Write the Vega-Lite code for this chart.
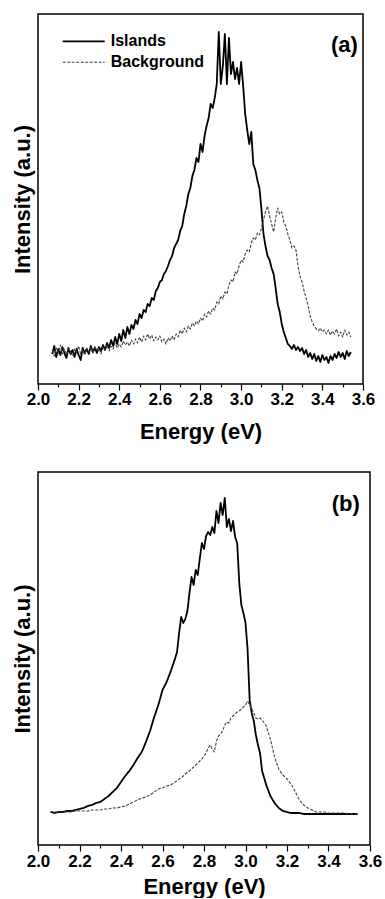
{
  "$schema": "https://vega.github.io/schema/vega-lite/v6.json",
  "padding": {"left": 10, "top": 13, "right": 0, "bottom": 0},
  "spacing": 28,
  "config": {
    "font": "Liberation Sans",
    "view": {"stroke": "#000", "strokeWidth": 1.5},
    "axis": {"labelFontSize": 17, "labelFontWeight": "bold", "labelColor": "#000", "titleFontSize": 22, "titleFontWeight": "bold", "titleColor": "#000", "tickColor": "#000", "tickWidth": 1.2, "grid": false, "domain": false},
    "legend": {"labelFontSize": 16, "labelFontWeight": "bold", "labelColor": "#000"}
  },
  "vconcat": [
    {
      "width": 325,
      "height": 370,
      "title": {"text": "(a)", "anchor": "end", "orient": "top", "offset": 0, "baseline": "middle", "dy": 53, "dx": -17, "fontSize": 22, "fontWeight": "bold", "font": "Liberation Sans", "color": "#000"},
      "data": {"values": [
        {"e":2.07,"Islands":30,"Background":34},{"e":2.08,"Islands":38,"Background":28},{"e":2.09,"Islands":27,"Background":36},{"e":2.10,"Islands":35,"Background":31},
        {"e":2.11,"Islands":29,"Background":39},{"e":2.12,"Islands":37,"Background":30},{"e":2.13,"Islands":31,"Background":35},{"e":2.14,"Islands":26,"Background":29},
        {"e":2.15,"Islands":36,"Background":37},{"e":2.16,"Islands":30,"Background":31},{"e":2.17,"Islands":34,"Background":28},{"e":2.18,"Islands":27,"Background":35},
        {"e":2.19,"Islands":35,"Background":32},{"e":2.20,"Islands":29,"Background":38},{"e":2.21,"Islands":24,"Background":30},{"e":2.22,"Islands":36,"Background":34},
        {"e":2.23,"Islands":31,"Background":29},{"e":2.24,"Islands":35,"Background":36},{"e":2.25,"Islands":30,"Background":32},{"e":2.26,"Islands":38,"Background":37},
        {"e":2.27,"Islands":32,"Background":31},{"e":2.28,"Islands":36,"Background":38},{"e":2.29,"Islands":31,"Background":33},{"e":2.30,"Islands":37,"Background":36},
        {"e":2.31,"Islands":33,"Background":30},{"e":2.32,"Islands":39,"Background":37},{"e":2.33,"Islands":34,"Background":34},{"e":2.34,"Islands":41,"Background":39},
        {"e":2.35,"Islands":36,"Background":33},{"e":2.36,"Islands":44,"Background":38},{"e":2.37,"Islands":38,"Background":35},{"e":2.38,"Islands":47,"Background":41},
        {"e":2.39,"Islands":40,"Background":36},{"e":2.40,"Islands":50,"Background":40},{"e":2.41,"Islands":43,"Background":37},{"e":2.42,"Islands":54,"Background":43},
        {"e":2.43,"Islands":46,"Background":39},{"e":2.44,"Islands":57,"Background":42},{"e":2.45,"Islands":50,"Background":38},{"e":2.46,"Islands":59,"Background":44},
        {"e":2.47,"Islands":55,"Background":40},{"e":2.48,"Islands":64,"Background":45},{"e":2.49,"Islands":60,"Background":41},{"e":2.50,"Islands":70,"Background":47},
        {"e":2.51,"Islands":66,"Background":42},{"e":2.52,"Islands":74,"Background":48},{"e":2.53,"Islands":72,"Background":44},{"e":2.54,"Islands":80,"Background":50},
        {"e":2.55,"Islands":78,"Background":45},{"e":2.56,"Islands":86,"Background":49},{"e":2.57,"Islands":84,"Background":43},{"e":2.58,"Islands":93,"Background":47},
        {"e":2.59,"Islands":96,"Background":44},{"e":2.60,"Islands":102,"Background":48},{"e":2.61,"Islands":104,"Background":42},{"e":2.62,"Islands":110,"Background":45},
        {"e":2.63,"Islands":113,"Background":40},{"e":2.64,"Islands":118,"Background":46},{"e":2.65,"Islands":124,"Background":43},{"e":2.66,"Islands":128,"Background":48},
        {"e":2.67,"Islands":136,"Background":44},{"e":2.68,"Islands":140,"Background":50},{"e":2.69,"Islands":144,"Background":47},{"e":2.70,"Islands":153,"Background":54},
        {"e":2.71,"Islands":158,"Background":50},{"e":2.72,"Islands":170,"Background":56},{"e":2.73,"Islands":178,"Background":52},{"e":2.74,"Islands":190,"Background":58},
        {"e":2.75,"Islands":196,"Background":55},{"e":2.76,"Islands":208,"Background":61},{"e":2.77,"Islands":214,"Background":58},{"e":2.78,"Islands":226,"Background":63},
        {"e":2.79,"Islands":222,"Background":60},{"e":2.80,"Islands":240,"Background":66},{"e":2.81,"Islands":232,"Background":63},{"e":2.82,"Islands":248,"Background":70},
        {"e":2.83,"Islands":258,"Background":67},{"e":2.84,"Islands":266,"Background":73},{"e":2.85,"Islands":280,"Background":70},{"e":2.86,"Islands":276,"Background":76},
        {"e":2.87,"Islands":286,"Background":74},{"e":2.88,"Islands":300,"Background":82},{"e":2.89,"Islands":352,"Background":80},{"e":2.90,"Islands":300,"Background":88},
        {"e":2.91,"Islands":318,"Background":85},{"e":2.92,"Islands":350,"Background":92},{"e":2.93,"Islands":300,"Background":90},{"e":2.94,"Islands":346,"Background":99},
        {"e":2.95,"Islands":310,"Background":104},{"e":2.96,"Islands":322,"Background":102},{"e":2.97,"Islands":305,"Background":112},{"e":2.98,"Islands":316,"Background":110},
        {"e":2.99,"Islands":300,"Background":118},{"e":3.00,"Islands":322,"Background":124},{"e":3.01,"Islands":298,"Background":122},{"e":3.02,"Islands":270,"Background":130},
        {"e":3.03,"Islands":254,"Background":134},{"e":3.04,"Islands":240,"Background":132},{"e":3.05,"Islands":252,"Background":141},{"e":3.06,"Islands":220,"Background":146},
        {"e":3.07,"Islands":214,"Background":144},{"e":3.08,"Islands":204,"Background":151},{"e":3.09,"Islands":196,"Background":149},{"e":3.10,"Islands":175,"Background":156},
        {"e":3.11,"Islands":150,"Background":164},{"e":3.12,"Islands":138,"Background":172},{"e":3.13,"Islands":128,"Background":178},{"e":3.14,"Islands":124,"Background":168},
        {"e":3.15,"Islands":116,"Background":160},{"e":3.16,"Islands":110,"Background":152},{"e":3.17,"Islands":96,"Background":166},{"e":3.18,"Islands":80,"Background":176},
        {"e":3.19,"Islands":72,"Background":170},{"e":3.20,"Islands":60,"Background":172},{"e":3.21,"Islands":52,"Background":162},{"e":3.22,"Islands":46,"Background":158},
        {"e":3.23,"Islands":40,"Background":150},{"e":3.24,"Islands":38,"Background":144},{"e":3.25,"Islands":35,"Background":136},{"e":3.26,"Islands":39,"Background":138},
        {"e":3.27,"Islands":34,"Background":134},{"e":3.28,"Islands":37,"Background":118},{"e":3.29,"Islands":33,"Background":108},{"e":3.30,"Islands":36,"Background":102},
        {"e":3.31,"Islands":30,"Background":93},{"e":3.32,"Islands":34,"Background":86},{"e":3.33,"Islands":27,"Background":78},{"e":3.34,"Islands":31,"Background":68},
        {"e":3.35,"Islands":25,"Background":62},{"e":3.36,"Islands":30,"Background":58},{"e":3.37,"Islands":23,"Background":55},{"e":3.38,"Islands":28,"Background":53},
        {"e":3.39,"Islands":22,"Background":56},{"e":3.40,"Islands":29,"Background":52},{"e":3.41,"Islands":24,"Background":54},{"e":3.42,"Islands":27,"Background":50},
        {"e":3.43,"Islands":21,"Background":54},{"e":3.44,"Islands":28,"Background":49},{"e":3.45,"Islands":24,"Background":53},{"e":3.46,"Islands":30,"Background":50},
        {"e":3.47,"Islands":26,"Background":55},{"e":3.48,"Islands":32,"Background":48},{"e":3.49,"Islands":27,"Background":52},{"e":3.50,"Islands":31,"Background":47},
        {"e":3.51,"Islands":25,"Background":54},{"e":3.52,"Islands":33,"Background":49},{"e":3.53,"Islands":28,"Background":52},{"e":3.54,"Islands":32,"Background":47}
      ]},
      "transform": [{"fold": ["Islands", "Background"], "as": ["series", "v"]}],
      "mark": {"type": "line", "strokeJoin": "round"},
      "encoding": {
        "x": {"field": "e", "type": "quantitative", "scale": {"domain": [2.0, 3.6], "nice": false, "zero": false},
          "axis": {"title": "Energy (eV)", "values": [2.0,2.1,2.2,2.3,2.4,2.5,2.6,2.7,2.8,2.9,3.0,3.1,3.2,3.3,3.4,3.5,3.6],
            "labelExpr": "round(datum.value*10) % 2 == 0 ? format(datum.value, '.1f') : ''",
            "tickSize": {"condition": {"test": "round(datum.value*10) % 2 == 0", "value": 6}, "value": 3},
            "labelPadding": 1, "titlePadding": 14, "labelFlush": false, "labelOverlap": false}},
        "y": {"field": "v", "type": "quantitative", "scale": {"domain": [0, 370], "nice": false},
          "axis": {"title": "Intensity (a.u.)", "labels": false, "ticks": false, "titlePadding": 4}},
        "color": {"field": "series", "type": "nominal", "scale": {"domain": ["Islands", "Background"], "range": ["#000000", "#444444"]},
          "legend": {"title": null, "orient": "none", "legendX": 23.7, "legendY": 16.8, "symbolType": "stroke", "symbolSize": 1764, "clipHeight": 21, "rowPadding": 0, "padding": 0, "labelOffset": 5}},
        "strokeDash": {"field": "series", "type": "nominal", "scale": {"domain": ["Islands", "Background"], "range": [[1, 0], [3, 1.5]]},
          "legend": {"title": null, "orient": "none", "legendX": 23.7, "legendY": 16.8, "symbolType": "stroke", "symbolSize": 1764, "clipHeight": 21, "rowPadding": 0, "padding": 0, "labelOffset": 5}},
        "strokeWidth": {"field": "series", "type": "nominal", "scale": {"domain": ["Islands", "Background"], "range": [1.8, 1.1]},
          "legend": {"title": null, "orient": "none", "legendX": 23.7, "legendY": 16.8, "symbolType": "stroke", "symbolSize": 1764, "clipHeight": 21, "rowPadding": 0, "padding": 0, "labelOffset": 5}}
      }
    },
    {
      "width": 332,
      "height": 373,
      "title": {"text": "(b)", "anchor": "end", "orient": "top", "offset": 0, "baseline": "middle", "dy": 54, "dx": -22, "fontSize": 22, "fontWeight": "bold", "font": "Liberation Sans", "color": "#000"},
      "data": {"values": [
        {"e":2.06,"Islands":33,"Background":33},{"e":2.08,"Islands":32,"Background":33},{"e":2.10,"Islands":33,"Background":33},{"e":2.12,"Islands":33,"Background":33},
        {"e":2.14,"Islands":34,"Background":33},{"e":2.16,"Islands":34,"Background":33},{"e":2.18,"Islands":35,"Background":34},{"e":2.20,"Islands":36,"Background":34},
        {"e":2.22,"Islands":37,"Background":34},{"e":2.24,"Islands":39,"Background":34},{"e":2.26,"Islands":40,"Background":35},{"e":2.28,"Islands":42,"Background":35},
        {"e":2.30,"Islands":43,"Background":35},{"e":2.32,"Islands":46,"Background":36},{"e":2.34,"Islands":49,"Background":36},{"e":2.36,"Islands":53,"Background":37},
        {"e":2.38,"Islands":57,"Background":37},{"e":2.40,"Islands":63,"Background":38},{"e":2.42,"Islands":69,"Background":39},{"e":2.44,"Islands":74,"Background":41},
        {"e":2.46,"Islands":80,"Background":43},{"e":2.48,"Islands":87,"Background":45},{"e":2.50,"Islands":93,"Background":47},{"e":2.52,"Islands":103,"Background":48},
        {"e":2.54,"Islands":114,"Background":50},{"e":2.56,"Islands":128,"Background":53},{"e":2.58,"Islands":140,"Background":56},{"e":2.60,"Islands":155,"Background":57},
        {"e":2.62,"Islands":163,"Background":59},{"e":2.64,"Islands":174,"Background":60},{"e":2.66,"Islands":186,"Background":63},{"e":2.67,"Islands":193,"Background":64},
        {"e":2.68,"Islands":212,"Background":66},{"e":2.69,"Islands":228,"Background":67},{"e":2.70,"Islands":222,"Background":69},{"e":2.71,"Islands":226,"Background":71},
        {"e":2.72,"Islands":234,"Background":73},{"e":2.73,"Islands":252,"Background":74},{"e":2.74,"Islands":268,"Background":76},{"e":2.75,"Islands":260,"Background":78},
        {"e":2.76,"Islands":275,"Background":80},{"e":2.77,"Islands":270,"Background":82},{"e":2.78,"Islands":287,"Background":84},{"e":2.79,"Islands":302,"Background":86},
        {"e":2.80,"Islands":296,"Background":89},{"e":2.81,"Islands":309,"Background":92},{"e":2.82,"Islands":313,"Background":97},{"e":2.83,"Islands":310,"Background":100},
        {"e":2.84,"Islands":318,"Background":96},{"e":2.85,"Islands":312,"Background":93},{"e":2.86,"Islands":334,"Background":104},{"e":2.87,"Islands":322,"Background":109},
        {"e":2.88,"Islands":342,"Background":111},{"e":2.89,"Islands":330,"Background":114},{"e":2.90,"Islands":347,"Background":120},{"e":2.91,"Islands":318,"Background":123},
        {"e":2.92,"Islands":326,"Background":122},{"e":2.93,"Islands":314,"Background":127},{"e":2.94,"Islands":324,"Background":129},{"e":2.95,"Islands":308,"Background":131},
        {"e":2.96,"Islands":302,"Background":133},{"e":2.97,"Islands":262,"Background":134},{"e":2.98,"Islands":240,"Background":136},{"e":2.99,"Islands":232,"Background":138},
        {"e":3.00,"Islands":222,"Background":140},{"e":3.01,"Islands":196,"Background":144},{"e":3.02,"Islands":145,"Background":140},{"e":3.03,"Islands":132,"Background":136},
        {"e":3.04,"Islands":124,"Background":132},{"e":3.05,"Islands":110,"Background":127},{"e":3.06,"Islands":100,"Background":126},{"e":3.07,"Islands":92,"Background":127},
        {"e":3.08,"Islands":74,"Background":125},{"e":3.10,"Islands":60,"Background":119},{"e":3.12,"Islands":49,"Background":106},{"e":3.14,"Islands":42,"Background":88},
        {"e":3.16,"Islands":37,"Background":76},{"e":3.18,"Islands":34,"Background":70},{"e":3.20,"Islands":33,"Background":66},{"e":3.22,"Islands":32,"Background":61},
        {"e":3.24,"Islands":32,"Background":53},{"e":3.26,"Islands":32,"Background":45},{"e":3.28,"Islands":31,"Background":40},{"e":3.30,"Islands":31,"Background":37},
        {"e":3.32,"Islands":31,"Background":35},{"e":3.34,"Islands":31,"Background":33},{"e":3.36,"Islands":31,"Background":33},{"e":3.38,"Islands":31,"Background":33},
        {"e":3.40,"Islands":31,"Background":32},{"e":3.42,"Islands":31,"Background":32},{"e":3.44,"Islands":31,"Background":32},{"e":3.46,"Islands":31,"Background":32},
        {"e":3.48,"Islands":31,"Background":32},{"e":3.50,"Islands":31,"Background":31},{"e":3.52,"Islands":31,"Background":31},{"e":3.54,"Islands":31,"Background":31}
      ]},
      "transform": [{"fold": ["Islands", "Background"], "as": ["series", "v"]}],
      "mark": {"type": "line", "strokeJoin": "round"},
      "encoding": {
        "x": {"field": "e", "type": "quantitative", "scale": {"domain": [2.0, 3.6], "nice": false, "zero": false},
          "axis": {"title": "Energy (eV)", "values": [2.0,2.1,2.2,2.3,2.4,2.5,2.6,2.7,2.8,2.9,3.0,3.1,3.2,3.3,3.4,3.5,3.6],
            "labelExpr": "round(datum.value*10) % 2 == 0 ? format(datum.value, '.1f') : ''",
            "tickSize": {"condition": {"test": "round(datum.value*10) % 2 == 0", "value": 6}, "value": 3},
            "labelPadding": 2, "titlePadding": 7, "labelFlush": false, "labelOverlap": false}},
        "y": {"field": "v", "type": "quantitative", "scale": {"domain": [0, 373], "nice": false},
          "axis": {"title": "Intensity (a.u.)", "labels": false, "ticks": false, "titlePadding": 4}},
        "color": {"field": "series", "type": "nominal", "scale": {"domain": ["Islands", "Background"], "range": ["#000000", "#444444"]},
          "legend": {"title": null, "orient": "none", "legendX": 19.7, "legendY": 10.2, "symbolType": "stroke", "symbolSize": 1936, "clipHeight": 21, "rowPadding": 0, "padding": 0, "labelOffset": 4}},
        "strokeDash": {"field": "series", "type": "nominal", "scale": {"domain": ["Islands", "Background"], "range": [[1, 0], [3, 1.5]]},
          "legend": {"title": null, "orient": "none", "legendX": 19.7, "legendY": 10.2, "symbolType": "stroke", "symbolSize": 1936, "clipHeight": 21, "rowPadding": 0, "padding": 0, "labelOffset": 4}},
        "strokeWidth": {"field": "series", "type": "nominal", "scale": {"domain": ["Islands", "Background"], "range": [1.8, 1.1]},
          "legend": {"title": null, "orient": "none", "legendX": 19.7, "legendY": 10.2, "symbolType": "stroke", "symbolSize": 1936, "clipHeight": 21, "rowPadding": 0, "padding": 0, "labelOffset": 4}}
      }
    }
  ]
}
